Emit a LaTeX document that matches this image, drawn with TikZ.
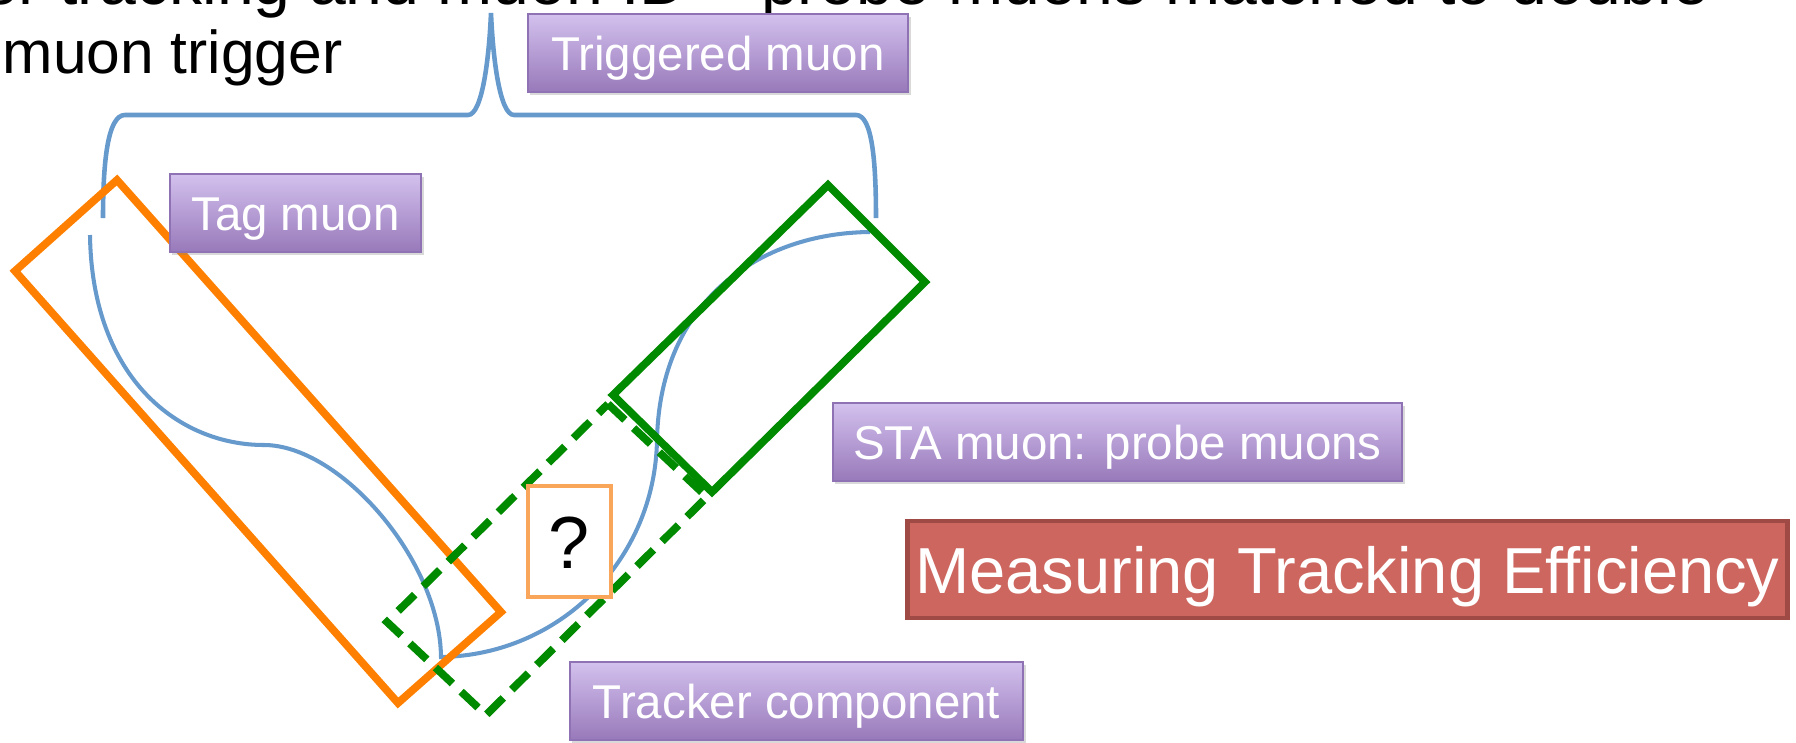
\documentclass[tikz,border=0pt]{standalone}
\usepackage{fontspec}
\setmainfont{Liberation Sans}
\usetikzlibrary{shadows}
\definecolor{tagOrange}{HTML}{FF8000}
\definecolor{staGreen}{HTML}{008A00}
\definecolor{trackBlue}{HTML}{6699CC}
\definecolor{qOrange}{HTML}{F9A65A}
\definecolor{boxTop}{HTML}{D3C1EE}
\definecolor{boxBottom}{HTML}{9879BA}
\definecolor{boxLine}{HTML}{8E72B4}
\definecolor{effRed}{HTML}{CD665F}
\definecolor{effLine}{HTML}{A04A45}
\tikzset{
    labelbox/.style={draw=boxLine, line width=0.5pt, top color=boxTop, bottom color=boxBottom, text=white, inner sep=0pt, minimum height=0.78cm, text height=9.7pt, text depth=0pt, font=\fontsize{13.5}{16}\selectfont, drop shadow={shadow xshift=0.7pt, shadow yshift=-0.9pt, opacity=0.3}},
    effbox/.style={draw=effLine, line width=1.4pt, fill=effRed, text=white, inner sep=0pt, minimum width=8.8cm, minimum height=0.97cm, text height=13.4pt, text depth=0pt, font=\fontsize{18.5}{22}\selectfont},
    qbox/.style={draw=qOrange, line width=1.2pt, fill=white, inner sep=0pt, minimum width=0.83cm, minimum height=1.11cm, text height=15.5pt, text depth=0pt, font=\fontsize{21}{25}\selectfont},
    muonframe/.style={line width=2.2pt, line join=miter},
    track/.style={draw=trackBlue, line width=1.15pt}
}

\begin{document}
\begin{tikzpicture}[x=0.01cm, y=-0.01cm]
    \clip (0,0) rectangle (1796,742);
    % slide text, cut at the top
    \node[anchor=base west, inner sep=0pt, font=\fontsize{18.8}{22}\selectfont] (intro) at (-37,4) {for tracking and muon ID – probe muons matched to double};
    \node[anchor=base west, inner sep=0pt, font=\fontsize{17.2}{20}\selectfont] (trigline) at (2,73) {muon trigger};
    % brace over both muons
    \draw[track, line width=1.3pt] (103,218) .. controls (103,160) and (108,115) .. (125,115) -- (468,115)
        .. controls (482,115) and (489,60) .. (491,13) .. controls (493,60) and (500,115) .. (514,115)
        -- (856,115) .. controls (872,115) and (876,160) .. (876,218);
    % muon track
    \draw[track] (90,235) .. controls (92,380) and (180,445) .. (264,445)
        .. controls (340,445) and (440,560) .. (441,657)
        .. controls (560,655) and (655,560) .. (657,440)
        .. controls (660,300) and (760,233) .. (870,232);
    % detector boxes
    \draw[muonframe, draw=tagOrange] (117,180) -- (501,612) -- (398,703) -- (15,271) -- cycle;
    \draw[muonframe, draw=staGreen, dash pattern=on 6.6pt off 3.4pt] (608,404) -- (707,497) -- (486,715) -- (387,622) -- cycle;
    \draw[muonframe, draw=staGreen] (828,185) -- (925,282) -- (712,492) -- (613,395) -- cycle;
    \node[qbox] (q) at (569.5,541.5) {?};
    % labels
    \foreach \name/\x/\y/\w/\txt in {trig/718/53/3.80/Triggered muon, tag/295.5/213/2.51/Tag muon, sta/1117.5/442/5.69/STA muon: probe muons, trk/796.5/701/4.53/Tracker component}{
        \node[labelbox, minimum width=\w cm] (\name) at (\x,\y) {\txt};
    }
    \node[effbox] (eff) at (1347.5,569.5) {Measuring Tracking Efficiency};
\end{tikzpicture}
\end{document}
